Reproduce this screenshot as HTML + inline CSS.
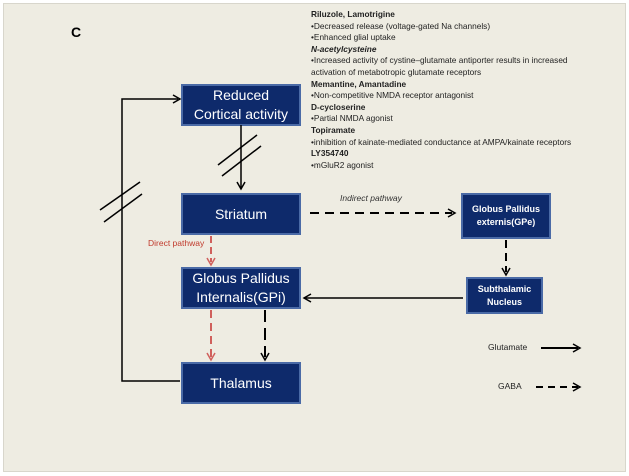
<!DOCTYPE html>
<html><head><meta charset="utf-8"><style>
body{margin:0;width:629px;height:476px;background:#fff;overflow:hidden;font-family:"Liberation Sans",sans-serif}
.bg{position:absolute;left:3px;top:3px;width:621px;height:467px;background:#eeece2;border:1px solid #d8d6cc}
.box{position:absolute;background:#0e2a6b;border:2px solid #4a6aa6;box-sizing:border-box;color:#fff;display:flex;align-items:center;justify-content:center;text-align:center}
.t{position:absolute;left:311px;top:9px;font-size:8.3px;line-height:11.6px;color:#222;white-space:nowrap}
</style></head><body>
<div class="bg"></div>
<div style="position:absolute;left:71px;top:24px;font-size:14px;font-weight:bold">C</div>
<div class="t"><b>Riluzole, Lamotrigine</b><br>•Decreased release (voltage-gated Na channels)<br>•Enhanced glial uptake<br><b><i>N-acetylcysteine</i></b><br>•Increased activity of cystine–glutamate antiporter results in increased<br>activation of metabotropic glutamate receptors<br><b>Memantine, Amantadine</b><br>•Non-competitive NMDA receptor antagonist<br><b>D-cycloserine</b><br>•Partial NMDA agonist<br><b>Topiramate</b><br>•inhibition of kainate-mediated conductance at AMPA/kainate receptors<br><b>LY354740</b><br>•mGluR2 agonist</div>
<div class="box" style="left:181px;top:84px;width:120px;height:42px;font-size:14px;line-height:19px">Reduced<br>Cortical activity</div>
<div class="box" style="left:181px;top:193px;width:120px;height:42px;font-size:14px">Striatum</div>
<div class="box" style="left:181px;top:267px;width:120px;height:42px;font-size:14px;line-height:19px">Globus Pallidus<br>Internalis(GPi)</div>
<div class="box" style="left:181px;top:362px;width:120px;height:42px;font-size:14px">Thalamus</div>
<div class="box" style="left:461px;top:193px;width:90px;height:46px;font-size:9px;font-weight:bold;line-height:13px">Globus Pallidus<br>externis(GPe)</div>
<div class="box" style="left:466px;top:277px;width:77px;height:37px;font-size:9px;font-weight:bold;line-height:13px">Subthalamic<br>Nucleus</div>
<div style="position:absolute;left:340px;top:193px;font-size:8.5px;font-style:italic;color:#333">Indirect pathway</div>
<div style="position:absolute;left:148px;top:238px;font-size:8.5px;color:#c0392b">Direct pathway</div>
<div style="position:absolute;left:488px;top:342px;font-size:8.5px;color:#222">Glutamate</div>
<div style="position:absolute;left:498px;top:381px;font-size:8.5px;color:#222">GABA</div>
<svg width="629" height="476" style="position:absolute;left:0;top:0">
<g fill="none" stroke="#000" stroke-width="1.5">
<polyline points="180,381 122,381 122,99 178,99"/>
<polyline points="173,95 180,99 173,103"/>
<line x1="241" y1="125" x2="241" y2="189"/>
<polyline points="237,182 241,189 245,182"/>
<line x1="218" y1="165" x2="257" y2="135"/><line x1="222" y1="176" x2="261" y2="146"/>
<line x1="100" y1="210" x2="140" y2="182"/><line x1="104" y1="222" x2="142" y2="194"/>
<line x1="463" y1="298" x2="304" y2="298"/>
<polyline points="311,294 304,298 311,302"/>
</g>
<g fill="none" stroke="#000" stroke-width="2">
<line x1="310" y1="213" x2="452" y2="213" stroke-dasharray="9,6"/>
<polyline points="448,209 455,213 448,217" stroke-width="1.5"/>
<line x1="506" y1="240" x2="506" y2="272" stroke-dasharray="8,5"/>
<polyline points="502,268 506,275 510,268" stroke-width="1.5"/>
<line x1="265" y1="310" x2="265" y2="357" stroke-dasharray="12,6"/>
<polyline points="261,353 265,360 269,353" stroke-width="1.5"/>
<line x1="541" y1="348" x2="578" y2="348"/>
<polyline points="573,344 580,348 573,352" stroke-width="1.5"/>
<line x1="536" y1="387" x2="578" y2="387" stroke-dasharray="7,5"/>
<polyline points="573,383 580,387 573,391" stroke-width="1.5"/>
</g>
<g fill="none" stroke="#d0605c" stroke-width="2">
<line x1="211" y1="236" x2="211" y2="262" stroke-dasharray="7,4"/>
<polyline points="207,258 211,265 215,258" stroke-width="1.5"/>
<line x1="211" y1="310" x2="211" y2="357" stroke-dasharray="8,5"/>
<polyline points="207,353 211,360 215,353" stroke-width="1.5"/>
</g>
</svg>
</body></html>
